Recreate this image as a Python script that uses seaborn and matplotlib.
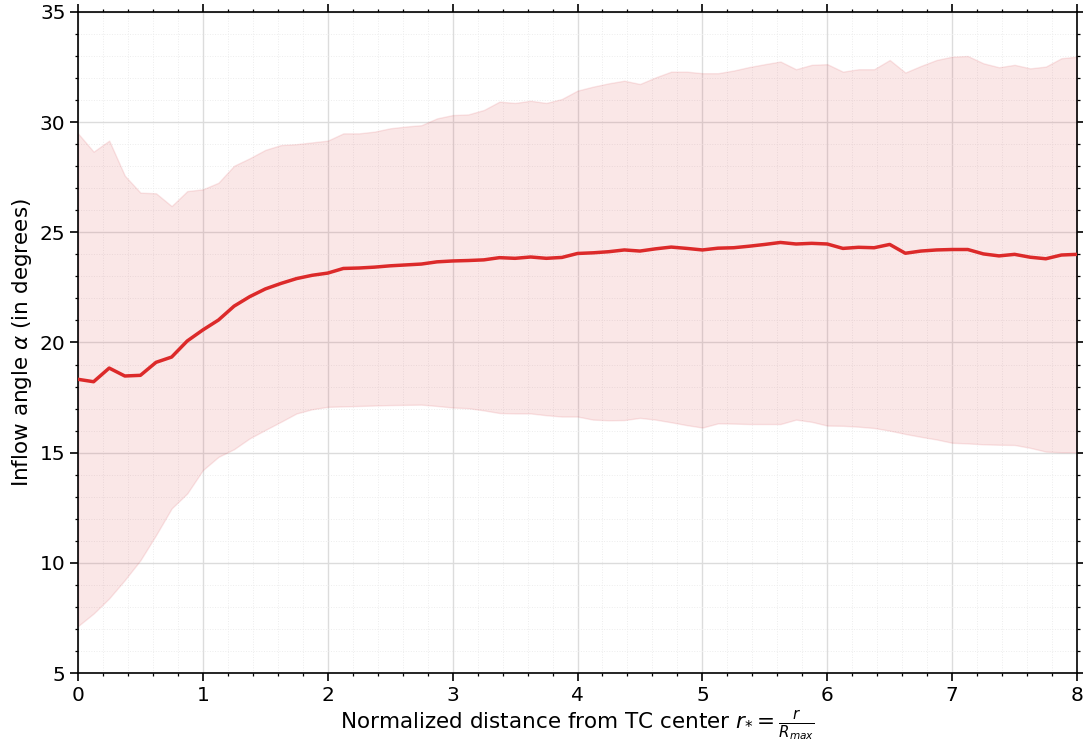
import numpy as np
import pandas as pd
import matplotlib
matplotlib.use("Agg")
import matplotlib.pyplot as plt
from matplotlib.ticker import MultipleLocator
import seaborn as sns

r_star = [i * 0.125 for i in range(65)]

alpha_mean = [18.33, 18.22, 18.84, 18.48, 18.51, 19.10, 19.34, 20.07, 20.57, 21.02,
              21.65, 22.08, 22.43, 22.68, 22.90, 23.05, 23.15, 23.36, 23.38, 23.42,
              23.48, 23.52, 23.56, 23.66, 23.70, 23.72, 23.75, 23.85, 23.82, 23.88,
              23.82, 23.86, 24.04, 24.07, 24.12, 24.20, 24.15, 24.25, 24.33, 24.27,
              24.20, 24.28, 24.30, 24.37, 24.45, 24.54, 24.47, 24.50, 24.47, 24.27,
              24.32, 24.30, 24.45, 24.05, 24.15, 24.20, 24.22, 24.22, 24.02, 23.93,
              24.00, 23.87, 23.80, 23.97, 24.00]

alpha_upper = [29.49, 28.66, 29.16, 27.57, 26.80, 26.77, 26.19, 26.87, 26.95, 27.25,
               28.02, 28.36, 28.74, 28.96, 29.00, 29.08, 29.16, 29.49, 29.49, 29.57,
               29.72, 29.80, 29.86, 30.17, 30.32, 30.35, 30.55, 30.93, 30.87, 30.97,
               30.87, 31.05, 31.43, 31.61, 31.76, 31.88, 31.73, 32.03, 32.29, 32.29,
               32.22, 32.22, 32.34, 32.50, 32.63, 32.75, 32.40, 32.60, 32.63, 32.29,
               32.40, 32.40, 32.82, 32.25, 32.55, 32.82, 32.97, 33.00, 32.67, 32.49,
               32.60, 32.44, 32.52, 32.90, 32.97]

alpha_lower = [7.13, 7.70, 8.39, 9.22, 10.12, 11.26, 12.47, 13.15, 14.21, 14.81,
               15.16, 15.65, 16.03, 16.40, 16.78, 16.97, 17.08, 17.10, 17.12, 17.14,
               17.16, 17.17, 17.18, 17.12, 17.05, 17.02, 16.92, 16.80, 16.78, 16.78,
               16.70, 16.64, 16.64, 16.50, 16.47, 16.48, 16.58, 16.50, 16.38, 16.25,
               16.14, 16.33, 16.32, 16.30, 16.30, 16.30, 16.50, 16.40, 16.23, 16.22,
               16.18, 16.12, 16.00, 15.85, 15.72, 15.60, 15.45, 15.42, 15.38, 15.36,
               15.35, 15.22, 15.05, 15.02, 15.02]

x_ticks = [0, 1, 2, 3, 4, 5, 6, 7, 8]
y_ticks = [5, 10, 15, 20, 25, 30, 35]

sns.set_style("ticks")
plt.rcParams['font.family'] = ['DejaVu Sans']
plt.rcParams['text.color'] = 'black'
plt.rcParams['axes.labelcolor'] = 'black'
plt.rcParams['xtick.color'] = 'black'
plt.rcParams['ytick.color'] = 'black'

df = pd.DataFrame({"r": r_star, "alpha": alpha_mean})

fig = plt.figure(figsize=(10.83, 7.47), dpi=100)
ax = fig.add_axes([0.072, 0.099, 0.9225, 0.885])

red = "#dc2a2a"
ax.fill_between(r_star, alpha_lower, alpha_upper, color="#d83a40", alpha=0.12, linewidth=1, zorder=1)
sns.lineplot(data=df, x="r", y="alpha", ax=ax, color=red, linewidth=2.5, zorder=3)

ax.set_xlim(0, 8)
ax.set_ylim(5, 35)
ax.set_xticks(x_ticks)
ax.set_yticks(y_ticks)
ax.xaxis.set_minor_locator(MultipleLocator(0.2))
ax.yaxis.set_minor_locator(MultipleLocator(1))

ax.grid(which="major", color="#dcdcdc", linewidth=1.0, linestyle="-", zorder=0)
ax.grid(which="minor", color="#ededed", linewidth=0.7, linestyle=":", zorder=0)
ax.set_axisbelow(True)

ax.tick_params(which="both", direction="out", top=True, right=True,
               labeltop=False, labelright=False, labelsize=14.5, color="black",
               labelcolor="black")
ax.tick_params(which="major", length=6, width=1.2, pad=3)
ax.tick_params(which="minor", length=2.5, width=0.9)
for s in ax.spines.values():
    s.set_visible(True)
    s.set_linewidth(1.2)
    s.set_color("black")

ax.set_xlabel(r"Normalized distance from TC center $r_{*} = \frac{r}{R_{max}}$",
              fontsize=15.5, labelpad=3, color="black")
ax.set_ylabel(r"Inflow angle $\alpha$ (in degrees)", fontsize=15.5, labelpad=4, color="black")

fig.savefig("out.png", dpi=100)
